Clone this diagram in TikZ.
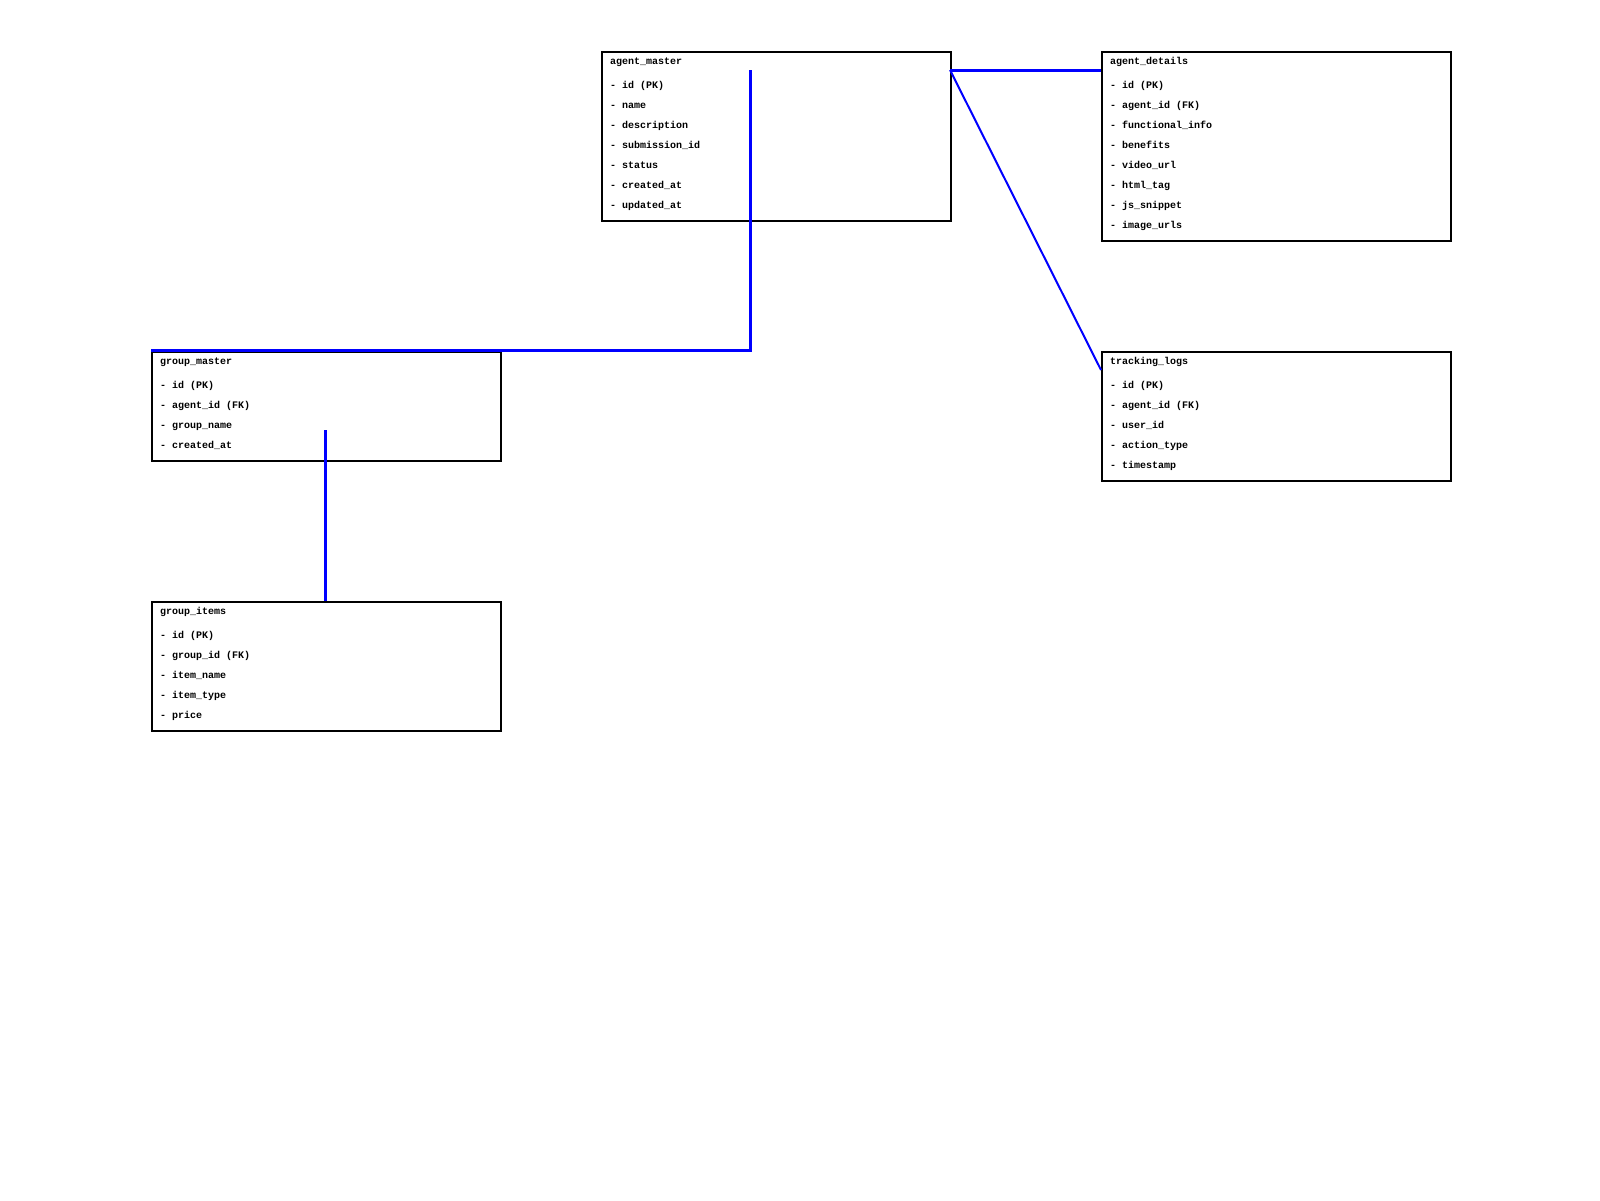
\documentclass[tikz,border=0pt]{standalone}
\usepackage{fontspec}
\setmonofont{Liberation Mono}
\begin{document}
\begin{tikzpicture}[x=1pt,y=-1pt,
  tablebox/.style={draw=black,line width=2pt,rectangle,inner sep=0pt,anchor=north west,minimum width=349pt},
  field/.style={anchor=base west,inner sep=0pt,font=\fontsize{10}{12}\selectfont\ttfamily\bfseries},
  link/.style={draw=blue,line width=3pt},
  thinlink/.style={draw=blue,line width=2pt}]
\useasboundingbox[fill=white] (0,0) rectangle (1600,1200);

% tables: name, left, top, height, title, fields
\foreach \nm/\lx/\ty/\h/\ttl/\flds in {
  am/601/51/169/agent\_master/{id (PK),name,description,submission\_id,status,created\_at,updated\_at},
  ad/1101/51/189/agent\_details/{id (PK),agent\_id (FK),functional\_info,benefits,video\_url,html\_tag,js\_snippet,image\_urls},
  gm/151/351/109/group\_master/{id (PK),agent\_id (FK),group\_name,created\_at},
  tl/1101/351/129/tracking\_logs/{id (PK),agent\_id (FK),user\_id,action\_type,timestamp},
  gi/151/601/129/group\_items/{id (PK),group\_id (FK),item\_name,item\_type,price}}{
  \node[tablebox,minimum height=\h pt] (\nm) at (\lx,\ty) {};
  \node[field] (\nm-title) at (\lx+9,\ty+13.5) {\ttl};
  \foreach \f [count=\i from 0] in \flds {
    \node[field] (\nm-f\i) at (\lx+9,\ty+37.5+20*\i) {- \f};
  }
}

% connector end points
\coordinate (amR) at (950,70);
\coordinate (adL) at (1101,70);
\coordinate (tlL) at (1101,370);
\coordinate (amC) at (750,70);
\coordinate (gmTL) at (151,350);
\coordinate (gmC) at (325.5,430);
\coordinate (giT) at (325.5,601);

\draw[link] (amR) -- (adL);
\draw[thinlink] (amR) -- (tlL);
\draw[link] (amC) |- (gmTL);
\draw[link] (gmC) -- (giT);
\end{tikzpicture}
\end{document}
